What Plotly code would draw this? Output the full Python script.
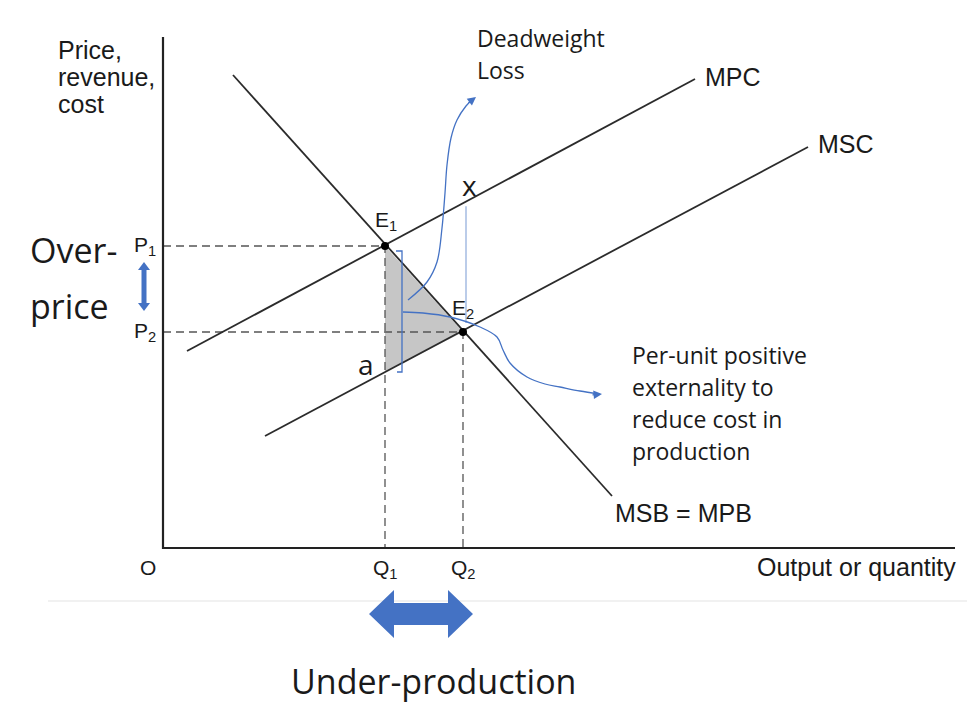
import numpy as np
import plotly.graph_objects as go

# ---------------- data (economic units, origin at the axes corner) ----------------
Q1, Q2 = 22.2, 30.0
P1, P2 = 30.2, 21.6

msb_q = [7.0, 44.9]
msb_p = [47.3, 5.2]
mpc_q = [2.4, 53.2]
mpc_p = [19.7, 46.9]
msc_q = [10.2, 64.5]
msc_p = [11.2, 40.1]

x_axis_end = 79.2
y_axis_end = 51.1

# annotation curves (blue)
dwl_curve_q = [24.5, 26.4, 27.4, 27.9, 28.2, 28.4, 28.8, 29.4, 30.3, 31.0]
dwl_curve_p = [24.8, 26.6, 28.6, 32.0, 35.5, 38.3, 41.0, 42.8, 44.2, 44.9]
ext_curve_q = [24.0, 26.0, 28.7, 31.7, 33.4, 34.0, 34.7, 36.4, 38.2, 39.7, 41.7, 43.5]
ext_curve_p = [23.6, 23.5, 23.1, 22.1, 21.1, 19.8, 18.5, 17.1, 16.4, 16.1, 15.7, 15.4]
bracket_q = 23.9
bracket_top, bracket_bottom = 29.7, 17.6

# ---------------- styles ----------------
BLUE = "#4472C4"
DARK = "#2b2b2b"
ARIAL = "Liberation Sans, Arial, sans-serif"
CALI = "Open Sans, Carlito, Calibri, sans-serif"

fig = go.Figure()


def add_line(q, p, color, width, dash=None, shape="linear", fill=None, fillcolor=None):
    fig.add_trace(go.Scatter(
        x=q, y=p, mode="lines",
        line=dict(color=color, width=width, dash=dash, shape=shape),
        fill=fill, fillcolor=fillcolor,
        hoverinfo="skip", showlegend=False))


# separator line (faint)
add_line([-11.5, 80.4], [-5.3, -5.3], "#ececec", 1.5)

# dead-weight triangle
a_p = float(np.interp(Q1, msc_q, msc_p))
add_line([Q1, Q2, Q1, Q1], [P1, P2, a_p, P1], "rgba(0,0,0,0)", 0,
         fill="toself", fillcolor="#c6c6c6")

# dashed guides
add_line([0, Q1, Q1], [P1, P1, 0], "#555555", 1.3, dash="8px,5px")
add_line([0, Q2, Q2], [P2, P2, 0], "#555555", 1.3, dash="8px,5px")

# curves
add_line(msb_q, msb_p, DARK, 1.8)
add_line(mpc_q, mpc_p, DARK, 1.8)
add_line(msc_q, msc_p, DARK, 1.8)

# axes
add_line([0, 0, x_axis_end], [y_axis_end, 0, 0], "#222222", 2.2)

# equilibrium points
fig.add_trace(go.Scatter(x=[Q1, Q2], y=[P1, P2], mode="markers",
                         marker=dict(color="black", size=8),
                         hoverinfo="skip", showlegend=False))

# blue helper marks
x_p = float(np.interp(Q2, mpc_q, mpc_p))
add_line([Q2 + 0.3, Q2 + 0.3], [x_p - 0.3, ext_curve_p[3] + 0.4], "#8eaadb", 1.2)
add_line([bracket_q - 0.6, bracket_q, bracket_q, bracket_q - 0.5],
         [bracket_top, bracket_top, bracket_bottom, bracket_bottom], BLUE, 1.3)
add_line(dwl_curve_q, dwl_curve_p, BLUE, 1.3, shape="spline")
add_line(ext_curve_q, ext_curve_p, BLUE, 1.3, shape="spline")


# double arrows (built around the Q and P values)
def h_double_arrow(L, R, c, hl, h, s):
    xs = [L, L + hl, L + hl, R - hl, R - hl, R, R - hl, R - hl, L + hl, L + hl, L]
    ys = [c, c + h, c + s, c + s, c + h, c, c - h, c - s, c - s, c - h, c]
    return xs, ys


hx, hy = h_double_arrow(Q1 - 1.6, Q2 + 1.0, -6.6, 2.5, 2.4, 1.1)
add_line(hx, hy, BLUE, 0, fill="toself", fillcolor=BLUE)
vy, vx = h_double_arrow(P2 + 2.1, P1 - 1.6, -1.9, 0.8, 0.6, 0.25)
add_line(vx, vy, BLUE, 0, fill="toself", fillcolor=BLUE)

annotations = []


def txt(x, y, s, size, font=ARIAL, xanchor="left", color="#1a1a1a"):
    shift = {"left": -2, "right": 3, "center": 0}[xanchor]
    annotations.append(dict(x=x, y=y, text=s, showarrow=False, xanchor=xanchor,
                            yanchor="middle", xshift=shift,
                            font=dict(family=font, size=size, color=color)))


# arrowheads on blue curves
annotations.append(dict(x=dwl_curve_q[-1] + 0.3, y=dwl_curve_p[-1] + 0.2, ax=-9, ay=7, text="",
                        showarrow=True, arrowhead=2, arrowsize=1.3, arrowwidth=1.3,
                        arrowcolor=BLUE))
annotations.append(dict(x=ext_curve_q[-1] + 0.4, y=ext_curve_p[-1], ax=-11, ay=1, text="",
                        showarrow=True, arrowhead=2, arrowsize=1.3, arrowwidth=1.3,
                        arrowcolor=BLUE))

# diagram labels
txt(-10.5, 49.8, "Price,", 25)
txt(-10.5, 47.1, "revenue,", 25)
txt(-10.5, 44.4, "cost", 25)
txt(-0.8, P1, "P<sub>1</sub>", 21, xanchor="right")
txt(-0.8, P2, "P<sub>2</sub>", 21, xanchor="right")
txt(-1.5, -1.9, "O", 21, xanchor="center")
txt(Q1, -2.1, "Q<sub>1</sub>", 21, xanchor="center")
txt(Q2, -2.1, "Q<sub>2</sub>", 21, xanchor="center")
txt(x_axis_end, -1.9, "Output or quantity", 25, xanchor="right")
txt(54.2, 47.1, "MPC", 25)
txt(65.5, 40.4, "MSC", 25)
txt(45.2, 3.5, "MSB = MPB", 25)
txt(21.2, 32.7, "E<sub>1</sub>", 21)
txt(28.9, 23.9, "E<sub>2</sub>", 21)

# explanatory text
txt(30.6, 36.3, "x", 28, font=CALI, xanchor="center")
txt(20.3, 18.4, "a", 28, font=CALI, xanchor="center")
txt(31.4, 51.0, "Deadweight", 23, font=CALI)
txt(31.4, 47.8, "Loss", 23, font=CALI)
txt(46.9, 19.3, "Per-unit positive", 23, font=CALI)
txt(46.9, 16.1, "externality to", 23, font=CALI)
txt(46.9, 12.9, "reduce cost in", 23, font=CALI)
txt(46.9, 9.7, "production", 23, font=CALI)
txt(-13.3, 29.8, "Over-", 34, font=CALI)
txt(-13.3, 24.2, "price", 34, font=CALI)
txt(27.0, -13.3, "Under-production", 34, font=CALI, xanchor="center")

fig.update_layout(
    width=971, height=710,
    margin=dict(l=0, r=0, t=0, b=0),
    paper_bgcolor="white", plot_bgcolor="white",
    xaxis=dict(range=[-16.3, 80.8], visible=False, fixedrange=True),
    yaxis=dict(range=[-16.2, 54.8], visible=False, fixedrange=True),
    annotations=annotations,
    showlegend=False,
)

fig.write_html("out.html", config={"displayModeBar": False},
               post_script="document.body.style.margin='0px';")
